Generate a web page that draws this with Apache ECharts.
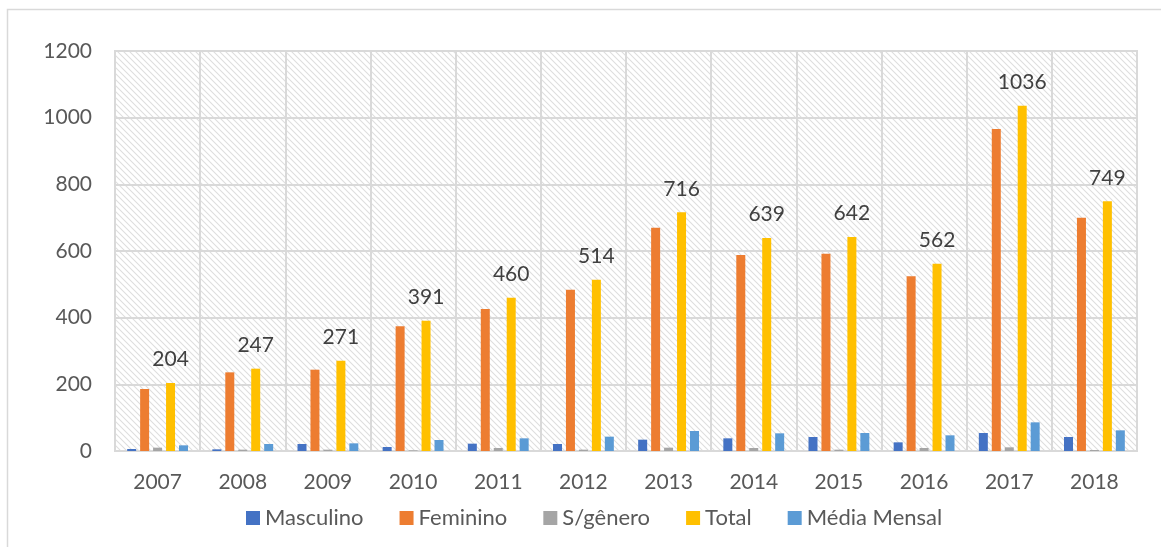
<!DOCTYPE html>
<html>
<head>
<meta charset="utf-8">
<script src="https://cdn.jsdelivr.net/npm/echarts@6/dist/echarts.min.js"></script>
<style>
html,body{margin:0;padding:0;background:#fff;}
#chart{width:1161px;height:547px;}
</style>
</head>
<body>
<div id="chart"></div>
<script>
const years = ['2007','2008','2009','2010','2011','2012','2013','2014','2015','2016','2017','2018'];
const masculino = [6, 5, 21, 12, 22, 21, 34, 38, 42, 26, 54, 42];
const feminino = [186, 236, 244, 374, 426, 484, 670, 588, 592, 524, 966, 700];
const semGenero = [10, 4, 4, 2, 9, 4, 10, 9, 4, 9, 11, 3];
const total = [204, 247, 271, 391, 460, 514, 716, 639, 642, 562, 1036, 749];
const mediaMensal = [17, 21, 23, 33, 38, 43, 60, 53, 54, 47, 86, 62];
const seriesNames = ['Masculino', 'Feminino', 'S/gênero', 'Total', 'Média Mensal'];
const yTicks = { min: 0, max: 1200, interval: 200 };

// hatch pattern
const pc = document.createElement('canvas');
pc.width = 6; pc.height = 6;
const ctx = pc.getContext('2d');
ctx.fillStyle = '#ffffff';
ctx.fillRect(0, 0, 6, 6);
ctx.strokeStyle = '#dedede';
ctx.lineWidth = 1.1;
ctx.beginPath();
ctx.moveTo(-1, -1); ctx.lineTo(7, 7);
ctx.moveTo(-1, 5); ctx.lineTo(1, 7);
ctx.moveTo(5, -1); ctx.lineTo(7, 1);
ctx.stroke();

const font = 'Lato';
const colors = ['#4472C4', '#ED7D31', '#A5A5A5', '#FFC000', '#5B9BD5'];
const dataSets = [masculino, feminino, semGenero, total, mediaMensal];

const chart = echarts.init(document.getElementById('chart'), null, { renderer: 'canvas' });
chart.setOption({
  animation: false,
  color: colors,
  textStyle: { fontFamily: font },
  graphic: [{
    type: 'rect',
    shape: { x: 7.5, y: 9.5, width: 1200, height: 600 },
    style: { fill: 'none', stroke: '#d9d9d9', lineWidth: 1.5 },
    silent: true
  }],
  grid: {
    left: 115, right: 24, top: 51, bottom: 96,
    show: true,
    backgroundColor: { image: pc, repeat: 'repeat' },
    borderColor: '#d9d9d9', borderWidth: 2
  },
  legend: {
    bottom: 13,
    left: 241,
    data: seriesNames,
    itemWidth: 14, itemHeight: 14, itemGap: 36,
    icon: 'rect',
    textStyle: { fontFamily: font, fontSize: 22, color: '#595959' }
  },
  xAxis: {
    type: 'category',
    data: years,
    axisLine: { show: true, lineStyle: { color: '#d9d9d9', width: 2 } },
    axisTick: { show: false },
    splitLine: { show: true, lineStyle: { color: '#d9d9d9', width: 2 } },
    axisLabel: { fontFamily: font, fontSize: 21, color: '#595959', margin: 21 }
  },
  yAxis: {
    type: 'value',
    min: yTicks.min, max: yTicks.max, interval: yTicks.interval,
    axisLine: { show: false },
    axisTick: { show: false },
    splitLine: { show: true, lineStyle: { color: '#d9d9d9', width: 2 } },
    axisLabel: { fontFamily: font, fontSize: 21, color: '#595959', margin: 23,
      formatter: v => String(v) }
  },
  series: seriesNames.map((name, i) => ({
    name: name,
    type: 'bar',
    data: dataSets[i],
    barWidth: 9,
    barGap: '44%',
    label: name === 'Total' ? {
      show: true, position: 'top', distance: 13,
      fontFamily: font, fontSize: 21, color: '#404040'
    } : { show: false }
  }))
});
</script>
</body>
</html>
